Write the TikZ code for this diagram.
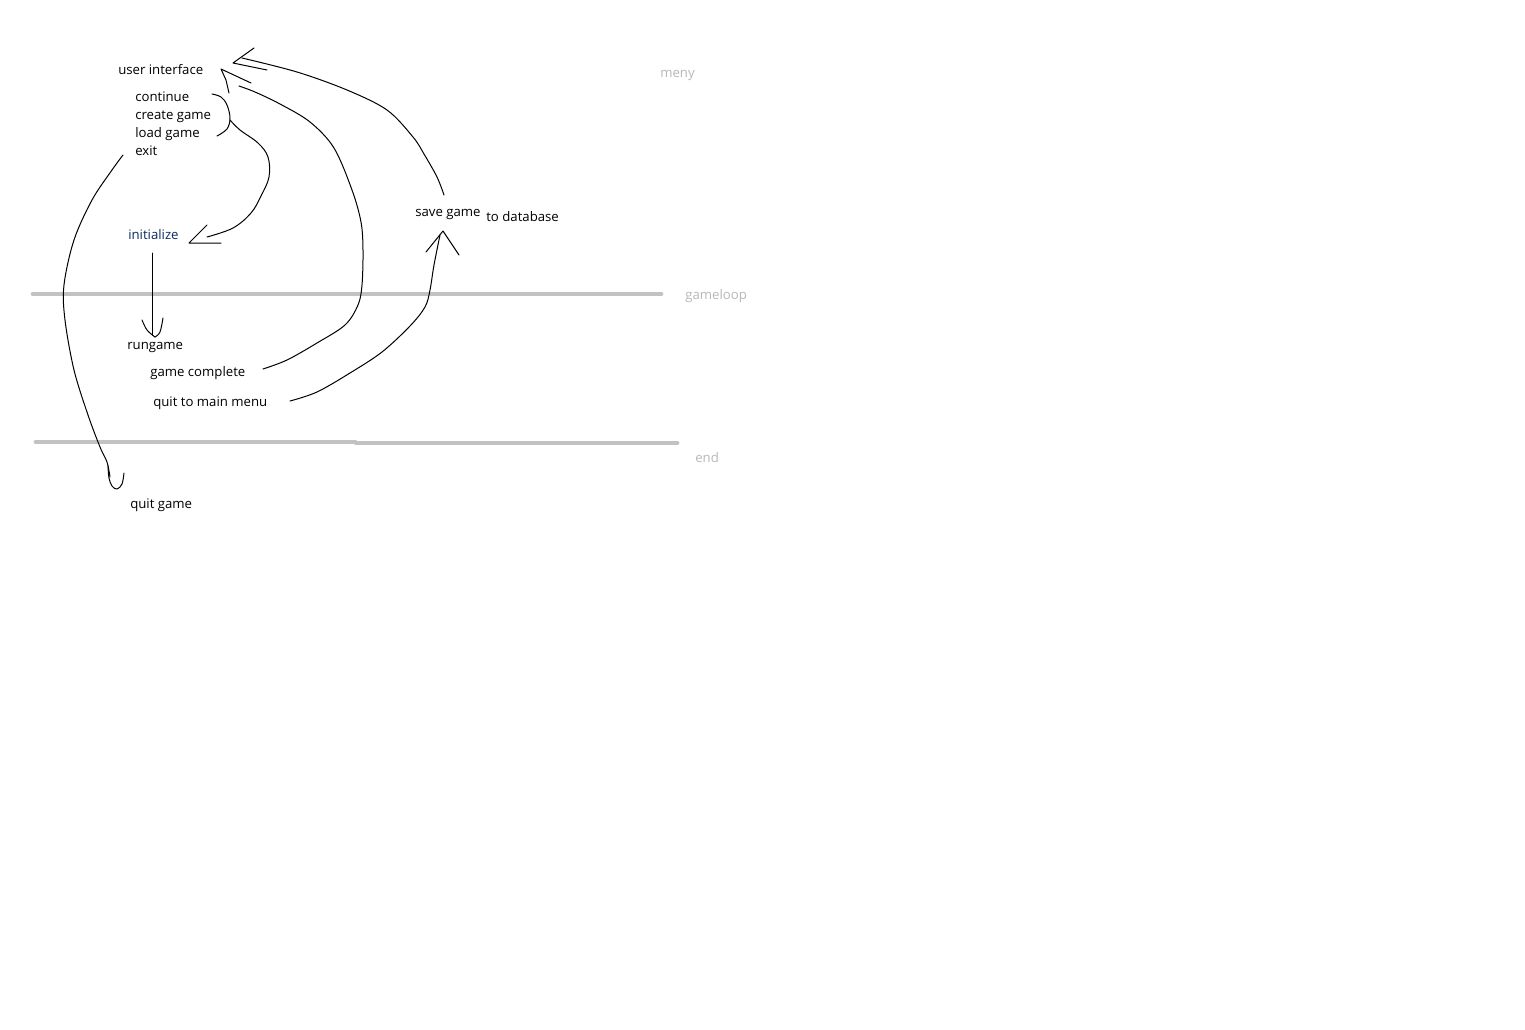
\documentclass[tikz,border=0pt]{standalone}
\usepackage{fontspec}
\setmainfont{Open Sans}
\begin{document}
\begin{tikzpicture}[x=0.75pt,y=-0.75pt,
  lbl/.style={anchor=base west,inner sep=0pt,font=\fontsize{9.9}{12}\selectfont,text=black},
  zone/.style={anchor=base west,inner sep=0pt,font=\fontsize{9.9}{12}\selectfont,text=black!28},
  sep/.style={draw=black!24,line width=3.6pt,line cap=round},
  ink/.style={draw=black,line width=0.75pt,line cap=round,line join=round}]
\useasboundingbox (0,0) rectangle (1525,1029);
\fill[white] (0,0) rectangle (1525,1029);
% separator lines
\draw[sep] (33,294) -- (661,294);
\draw[sep] (36,442) -- (355,442);
\draw[sep] (356,443) -- (677,443);
% texts (base line positions)
\node[lbl] (ui) at (118,74.5) {user interface};
\node[lbl] (cont) at (135,101.5) {continue};
\node[lbl] (create) at (135,119.5) {create game};
\node[lbl] (load) at (135,137.5) {load game};
\node[lbl] (exit) at (135,155.5) {exit};
\node[lbl,text={rgb,255:red,10;green,45;blue,100}] (init) at (128,239.5) {initialize};
\node[lbl] (run) at (127,349.5) {rungame};
\node[lbl] (gc) at (150,376.5) {game complete};
\node[lbl] (qmm) at (153,406.5) {quit to main menu};
\node[lbl] (qg) at (130,508.5) {quit game};
\node[lbl] (save) at (415,216.5) {save game};
\node[lbl] (db) at (486,221.5) {to database};
\node[zone] (meny) at (660,77.5) {meny};
\node[zone] (loop) at (685,299.5) {gameloop};
\node[zone] (endz) at (695,462.5) {end};
% named coordinates for connector ends
\coordinate (uiTipA) at (221,69);
\coordinate (uiTipB) at (233,63);
\coordinate (initTip) at (189,243);
\coordinate (runTip) at (155,337);
\coordinate (saveTip) at (443,231);
\coordinate (qgTip) at (117,489);
\coordinate (gcStart) at (263,369);
\coordinate (qmmStart) at (290,401);
\coordinate (saveStart) at (444,195);
\coordinate (exitStart) at (123,155);
\coordinate (initStart) at (152,253);
% bracket around continue .. load game
\draw[ink] plot[smooth,tension=0.6] coordinates {(212,94) (221,97) (227,105) (230,118) (227,129) (217,136)};
% bracket -> initialize
\draw[ink] plot[smooth,tension=0.6] coordinates {(230,120) (240,130) (258,143) (268,157) (269,177) (261,196) (251,213) (233,228) (207,237)};
\draw[ink] (207,225) -- (initTip) -- (221,243);
% initialize -> rungame
\draw[ink] (initStart) -- (152,335);
\draw[ink] plot[smooth,tension=0.6] coordinates {(142,320) (147,330) (runTip)};
\draw[ink] plot[smooth,tension=0.6] coordinates {(runTip) (160,332) (163,318)};
% game complete -> user interface
\draw[ink] plot[smooth,tension=0.55] coordinates {(gcStart) (287,360) (317,343) (345,325) (358,305) (362,285) (363,250) (361,222) (352,190) (334,148) (310,122) (280,104) (255,92) (239,86)};
\draw[ink] (229,93) -- (226,80) -- (uiTipA) -- (251,83);
% save game -> user interface
\draw[ink] plot[smooth,tension=0.55] coordinates {(saveStart) (437,177) (424,154) (413,137) (387,110) (347,90) (297,72) (242,58)};
\draw[ink] (254,48) -- (uiTipB) -- (267,70);
% quit to main menu -> save game
\draw[ink] plot[smooth,tension=0.55] coordinates {(qmmStart) (317,392) (350,373) (382,352) (410,326) (425,307) (430,290) (434,265) (440,235)};
\draw[ink] (426,252) -- (saveTip) -- (459,255);
% exit -> quit game
\draw[ink] plot[smooth,tension=0.55] coordinates {(exitStart) (112,170) (92,200) (74,240) (64,285) (65,320) (74,370) (88,415) (100,447) (107,462) (110,477)};
\draw[ink] plot[smooth,tension=0.6] coordinates {(108,466) (109,478) (112,486) (qgTip) (122,484) (124,473)};
\end{tikzpicture}
\end{document}
